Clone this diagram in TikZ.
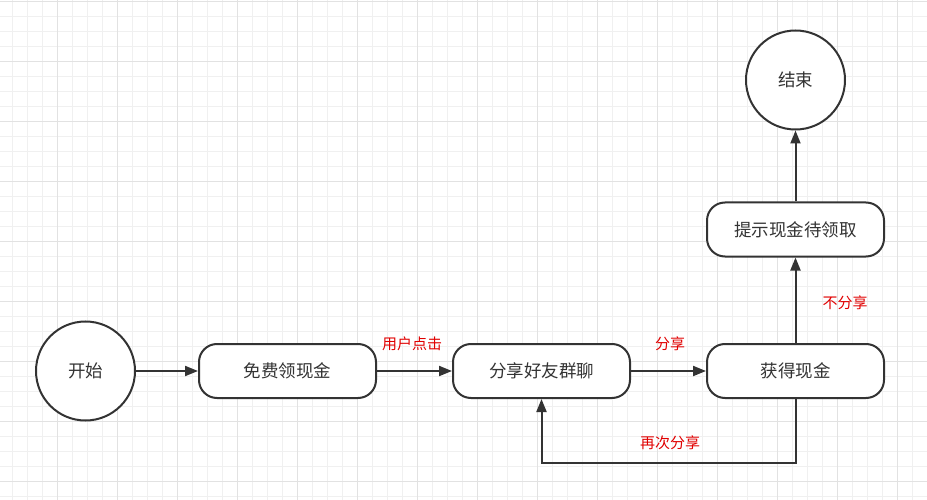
\documentclass[tikz,border=0pt]{standalone}
\usepackage{fontspec}
\setmainfont{Noto Sans CJK SC}
\usetikzlibrary{arrows.meta,positioning}
\definecolor{ink}{HTML}{333333}
\definecolor{gridminor}{HTML}{F0F0F0}
\definecolor{gridmajor}{HTML}{E2E2E2}
\definecolor{tagred}{HTML}{E00000}

\begin{document}
\begin{tikzpicture}[
  x=1pt,y=-1pt,
  font=\fontsize{17.5}{20}\selectfont, text=ink,
  terminal/.style={circle,draw=ink,line width=2pt,fill=white,minimum size=99pt,inner sep=0pt},
  stepbox/.style={draw=ink,line width=2pt,fill=white,rounded corners=18pt,minimum width=177pt,minimum height=54pt,inner sep=0pt},
  flow/.style={-{Triangle[length=13pt,width=10pt]},draw=ink,line width=2pt},
  tag/.style={font=\fontsize{15}{18}\selectfont,text=tagred,inner sep=1pt},
]
\useasboundingbox (0,0) rectangle (927,500);
% background grid
\foreach \x in {12.5,27.5,...,927}
  \draw[gridminor,line width=0.9pt] (\x,0) -- (\x,500);
\foreach \y in {1,16,...,500}
  \draw[gridminor,line width=0.9pt] (0,\y) -- (927,\y);
\foreach \x in {57.5,117.5,...,927}
  \draw[gridmajor,line width=0.9pt] (\x,0) -- (\x,500);
\foreach \y in {1,61,...,500}
  \draw[gridmajor,line width=0.9pt] (0,\y) -- (927,\y);

\node[terminal] (start) at (85.5,371) {开始};
\node[stepbox] (free) at (287.5,371) {免费领现金};
\node[stepbox] (share) at (541.5,371) {分享好友群聊};
\node[stepbox] (gain) at (795.5,371) {获得现金};
\node[stepbox] (hint) at (795.5,229.5) {提示现金待领取};
\node[terminal] (finish) at (795.5,80) {结束};

\draw[flow] (start) -- (free);
\draw[flow] (free) -- (share);
\draw[flow] (share) -- (gain);
\draw[flow] (gain) -- (hint);
\draw[flow] (hint) -- (finish);
\coordinate (back) at (0,463);
\draw[flow] (gain.south) -- (gain.south |- back) -| (share.south);

\node[tag] (click) at (412,344) {用户点击};
\node[tag] (shared) at (670,344) {分享};
\node[tag] (noshare) at (845,303) {不分享};
\node[tag] (again) at (670,443) {再次分享};
\end{tikzpicture}
\end{document}
